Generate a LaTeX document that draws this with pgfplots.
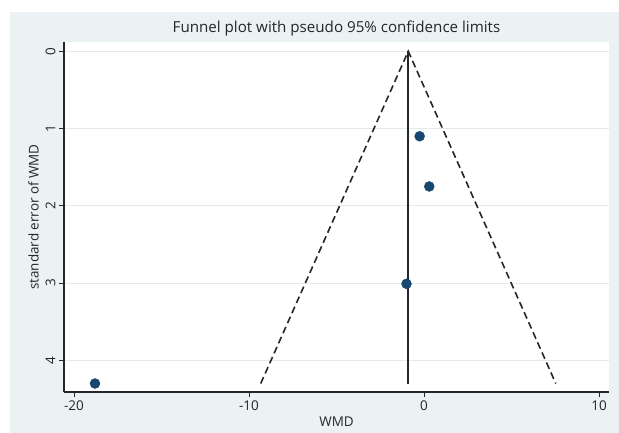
\documentclass[border=0pt]{standalone}
\usepackage{pgfplots}
\pgfplotsset{compat=1.18}
\usepackage{fontspec}
\setmainfont{Open Sans}
\definecolor{stbg}{RGB}{234,242,243}
\definecolor{stgrid}{RGB}{226,236,238}
\definecolor{stnavy}{RGB}{26,71,111}
\definecolor{stline}{RGB}{35,38,42}
\begin{document}
\begin{tikzpicture}[x=1bp,y=1bp]
\useasboundingbox (-64,-41) rectangle (555,392);
\fill[stbg] (-54,-41) rectangle (555,380);
\begin{axis}[
  at={(0,0)}, anchor=south west,
  scale only axis,
  width=545bp, height=350bp,
  xmin=-20.57, xmax=10.57,
  ymin=-0.12, ymax=4.41,
  y dir=reverse,
  axis background/.style={fill=white},
  axis x line*=bottom, axis y line*=left,
  axis line style={stline, line width=1.1pt, -},
  xtick={-20,-10,0,10},
  ytick={0,1,2,3,4},
  tick align=outside,
  major tick length=5bp,
  tick style={stline, line width=0.9pt},
  ymajorgrids,
  grid style={stgrid, line width=0.8pt},
  yticklabel style={rotate=90, anchor=south},
  /pgf/number format/assume math mode=true,
  tick label style={font=\fontsize{13.5}{15}\selectfont, text=black!85},
  label style={font=\fontsize{13.5}{15}\selectfont, text=black!85},
  xlabel={WMD},
  ylabel={standard error of WMD},
  title={Funnel plot with pseudo 95\% confidence limits},
  title style={font=\fontsize{15.2}{17}\selectfont, text=black!85, yshift=-4bp},
  clip=false,
]
\addplot[stline, line width=1.6pt, dash pattern=on 7bp off 4bp] coordinates {
(-9.33,4.30) (-0.9,0) (7.53,4.30)
};
\addplot[stline, line width=1.6pt] coordinates {
(-0.9,0) (-0.9,4.30)
};
\addplot[only marks, mark=*, mark size=5bp, stnavy, mark options={draw=stnavy, fill=stnavy}] coordinates {
(-0.25,1.10) (0.30,1.75) (-1.00,3.01) (-18.80,4.30)
};
\end{axis}
\end{tikzpicture}
\end{document}
